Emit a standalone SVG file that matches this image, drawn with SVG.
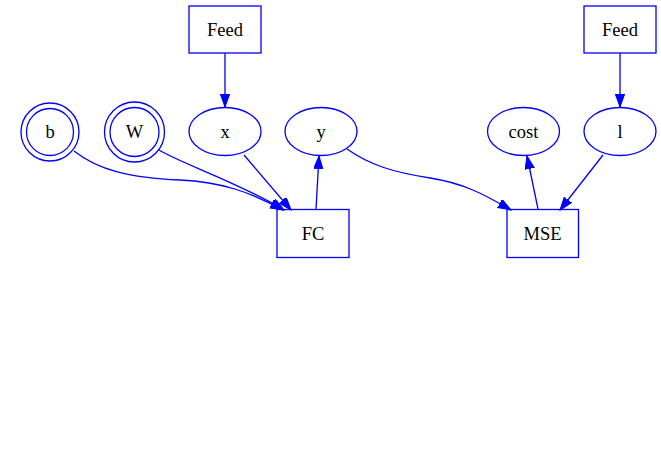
<svg xmlns="http://www.w3.org/2000/svg" width="661" height="455" viewBox="0 0 661 455">
<style>
.n{fill:none;stroke:#0000ff;stroke-width:1.3}
.t{font-family:'Liberation Serif','Times New Roman',Times,serif;font-size:18.5px;fill:#000;text-anchor:middle}
.e{fill:none;stroke:#0000ff;stroke-width:1.3}
</style>
<defs>
<marker id="ah" markerUnits="userSpaceOnUse" markerWidth="14" markerHeight="10" refX="13" refY="4.7" orient="auto">
<path d="M0,0 L13,4.7 L0,9.4 z" fill="#0000ff" stroke="#0000ff" stroke-width="1"/>
</marker>
</defs>
<rect width="661" height="455" fill="#fff"/>
<g id="edges">
<path class="e" marker-end="url(#ah)" d="M225,53 L225,107"/>
<path class="e" marker-end="url(#ah)" d="M620,53 L620,107"/>
<path class="e" marker-end="url(#ah)" d="M74,151 C98,170 130,178 180,180 C222,182 250,192 283,210"/>
<path class="e" marker-end="url(#ah)" d="M159,150 C180,163 242,184 284,210"/>
<path class="e" marker-end="url(#ah)" d="M244,155 L291,210"/>
<path class="e" marker-end="url(#ah)" d="M316,209 L319,156"/>
<path class="e" marker-end="url(#ah)" d="M347,149 C370,165 392,172 430,178 C462,183 482,193 511,210"/>
<path class="e" marker-end="url(#ah)" d="M538,209 L527,156"/>
<path class="e" marker-end="url(#ah)" d="M603,155 L560,210"/>
</g>
<g id="feed1"><rect class="n" x="189" y="6" width="72" height="47"/><text class="t" x="225" y="36">Feed</text></g>
<g id="feed2"><rect class="n" x="584" y="6" width="72" height="47"/><text class="t" x="620" y="36">Feed</text></g>
<g id="b"><circle class="n" cx="50" cy="132" r="29"/><circle class="n" cx="50" cy="132" r="23.5"/><text class="t" x="50" y="138">b</text></g>
<g id="W"><circle class="n" cx="134.5" cy="132" r="30"/><circle class="n" cx="134.5" cy="132" r="24.5"/><text class="t" x="134.5" y="138">W</text></g>
<g id="x"><ellipse class="n" cx="225" cy="131.5" rx="36" ry="24"/><text class="t" x="225" y="138">x</text></g>
<g id="y"><ellipse class="n" cx="321" cy="131.5" rx="36" ry="24"/><text class="t" x="321" y="138">y</text></g>
<g id="cost"><ellipse class="n" cx="523.5" cy="131.5" rx="36" ry="24"/><text class="t" x="523.5" y="138">cost</text></g>
<g id="l"><ellipse class="n" cx="620" cy="131.5" rx="36" ry="24"/><text class="t" x="620" y="138">l</text></g>
<g id="FC"><rect class="n" x="277" y="209.5" width="72" height="48"/><text class="t" x="313" y="240">FC</text></g>
<g id="MSE"><rect class="n" x="507" y="209.5" width="71.5" height="48"/><text class="t" x="542.5" y="240">MSE</text></g>
</svg>
